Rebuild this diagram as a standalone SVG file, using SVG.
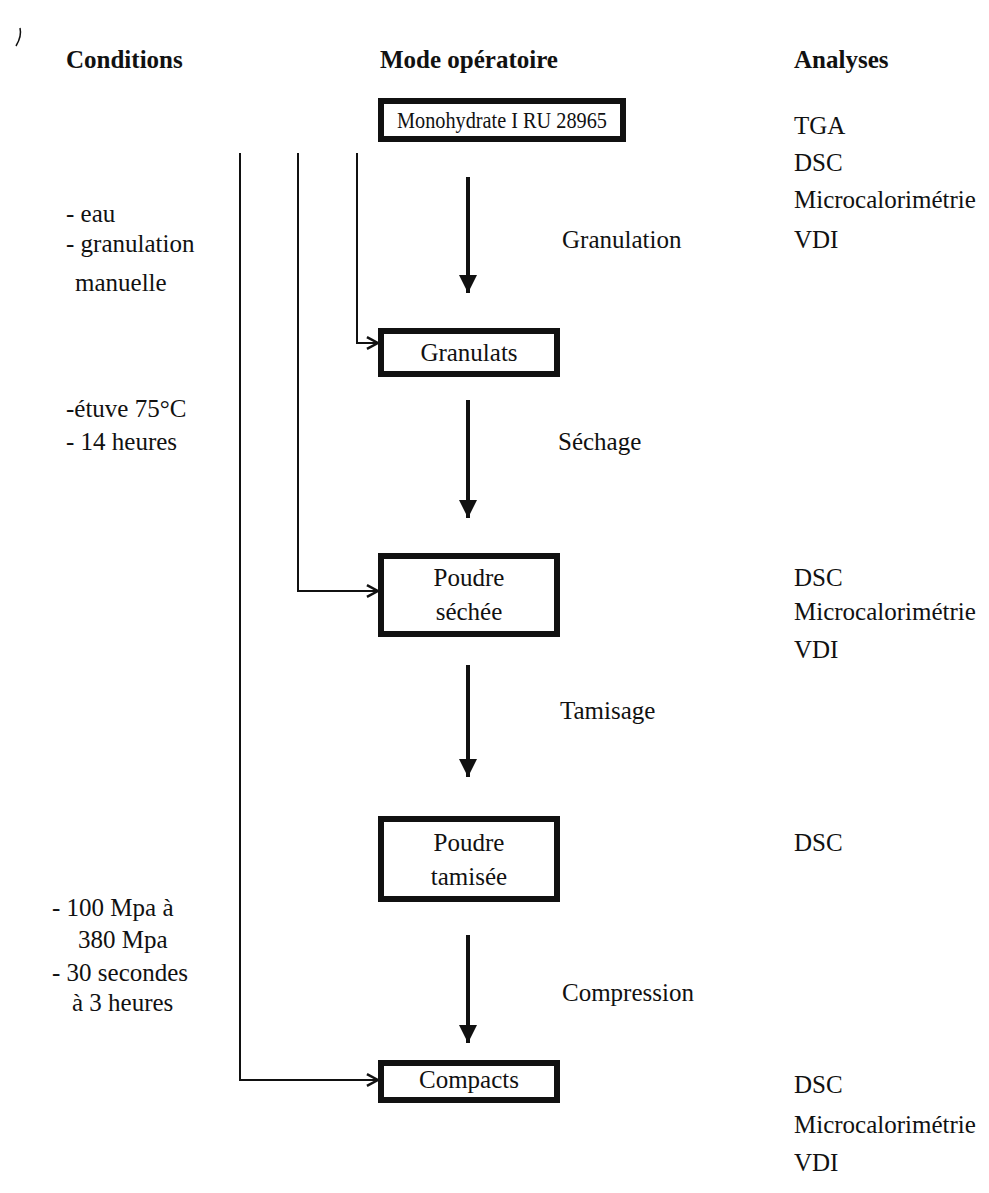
<svg xmlns="http://www.w3.org/2000/svg" width="989" height="1193" viewBox="0 0 989 1193">
<defs>
<style>
text{font-family:"Liberation Serif","Times New Roman",serif;font-size:25px;fill:#111}
.h{font-weight:bold}
.c{text-anchor:middle}
.sm{font-size:23px}
.box{fill:#fff;stroke:#111;stroke-width:6}
.flow{stroke:#111;stroke-width:4;fill:none}
.link{stroke:#111;stroke-width:2;fill:none}
</style>
<marker id="tri" viewBox="0 0 10 10" refX="10" refY="5" markerWidth="4.5" markerHeight="4.5" markerUnits="strokeWidth" orient="auto">
<path d="M0,0 L10,5 L0,10 Z" fill="#111"/>
</marker>
<marker id="open" viewBox="0 0 10 10" refX="9" refY="5" markerWidth="8.5" markerHeight="8.5" markerUnits="strokeWidth" orient="auto">
<path d="M2.5,1.5 L9,5 L2.5,8.5" fill="none" stroke="#111" stroke-width="1.5"/>
</marker>
</defs>
<rect width="989" height="1193" fill="#fff"/>
<path d="M20,28 Q22,36 16,46" stroke="#111" stroke-width="1.5" fill="none"/>
<g id="headers">
<text class="h" x="66" y="68">Conditions</text>
<text class="h" x="380" y="68">Mode opératoire</text>
<text class="h" x="794" y="68">Analyses</text>
</g>
<g id="connectors">
<path class="link" d="M357,153 V343 H378" marker-end="url(#open)"/>
<path class="link" d="M298,153 V591 H378" marker-end="url(#open)"/>
<path class="link" d="M240,153 V1080 H378" marker-end="url(#open)"/>
<line class="flow" x1="468" y1="177" x2="468" y2="293" marker-end="url(#tri)"/>
<line class="flow" x1="468" y1="400" x2="468" y2="518" marker-end="url(#tri)"/>
<line class="flow" x1="468" y1="665" x2="468" y2="777" marker-end="url(#tri)"/>
<line class="flow" x1="468" y1="935" x2="468" y2="1043" marker-end="url(#tri)"/>
<text x="562" y="248">Granulation</text>
<text x="558" y="450">Séchage</text>
<text x="560" y="719">Tamisage</text>
<text x="562" y="1001">Compression</text>
</g>
<g id="n1">
<rect class="box" x="381" y="101" width="242" height="38"/>
<text class="c sm" x="502" y="128" textLength="210" lengthAdjust="spacingAndGlyphs">Monohydrate I RU 28965</text>
</g>
<g id="n2">
<rect class="box" x="381" y="331" width="176" height="43"/>
<text class="c" x="469" y="361">Granulats</text>
</g>
<g id="n3">
<rect class="box" x="381" y="556" width="176" height="78"/>
<text class="c" x="469" y="586">Poudre</text>
<text class="c" x="469" y="620">séchée</text>
</g>
<g id="n4">
<rect class="box" x="381" y="819" width="176" height="80"/>
<text class="c" x="469" y="851">Poudre</text>
<text class="c" x="469" y="885">tamisée</text>
</g>
<g id="n5">
<rect class="box" x="381" y="1063" width="176" height="37"/>
<text class="c" x="469" y="1088">Compacts</text>
</g>
<g id="conditions">
<text x="66" y="222">- eau</text>
<text x="66" y="252">- granulation</text>
<text x="75" y="291">manuelle</text>
<text x="66" y="417">-étuve 75°C</text>
<text x="66" y="450">- 14 heures</text>
<text x="52" y="916">- 100 Mpa à</text>
<text x="78" y="948">380 Mpa</text>
<text x="52" y="981">- 30 secondes</text>
<text x="72" y="1011">à 3 heures</text>
</g>
<g id="analyses">
<text x="794" y="134">TGA</text>
<text x="794" y="171">DSC</text>
<text x="794" y="208">Microcalorimétrie</text>
<text x="794" y="248">VDI</text>
<text x="794" y="586">DSC</text>
<text x="794" y="620">Microcalorimétrie</text>
<text x="794" y="658">VDI</text>
<text x="794" y="851">DSC</text>
<text x="794" y="1093">DSC</text>
<text x="794" y="1133">Microcalorimétrie</text>
<text x="794" y="1171">VDI</text>
</g>
</svg>
